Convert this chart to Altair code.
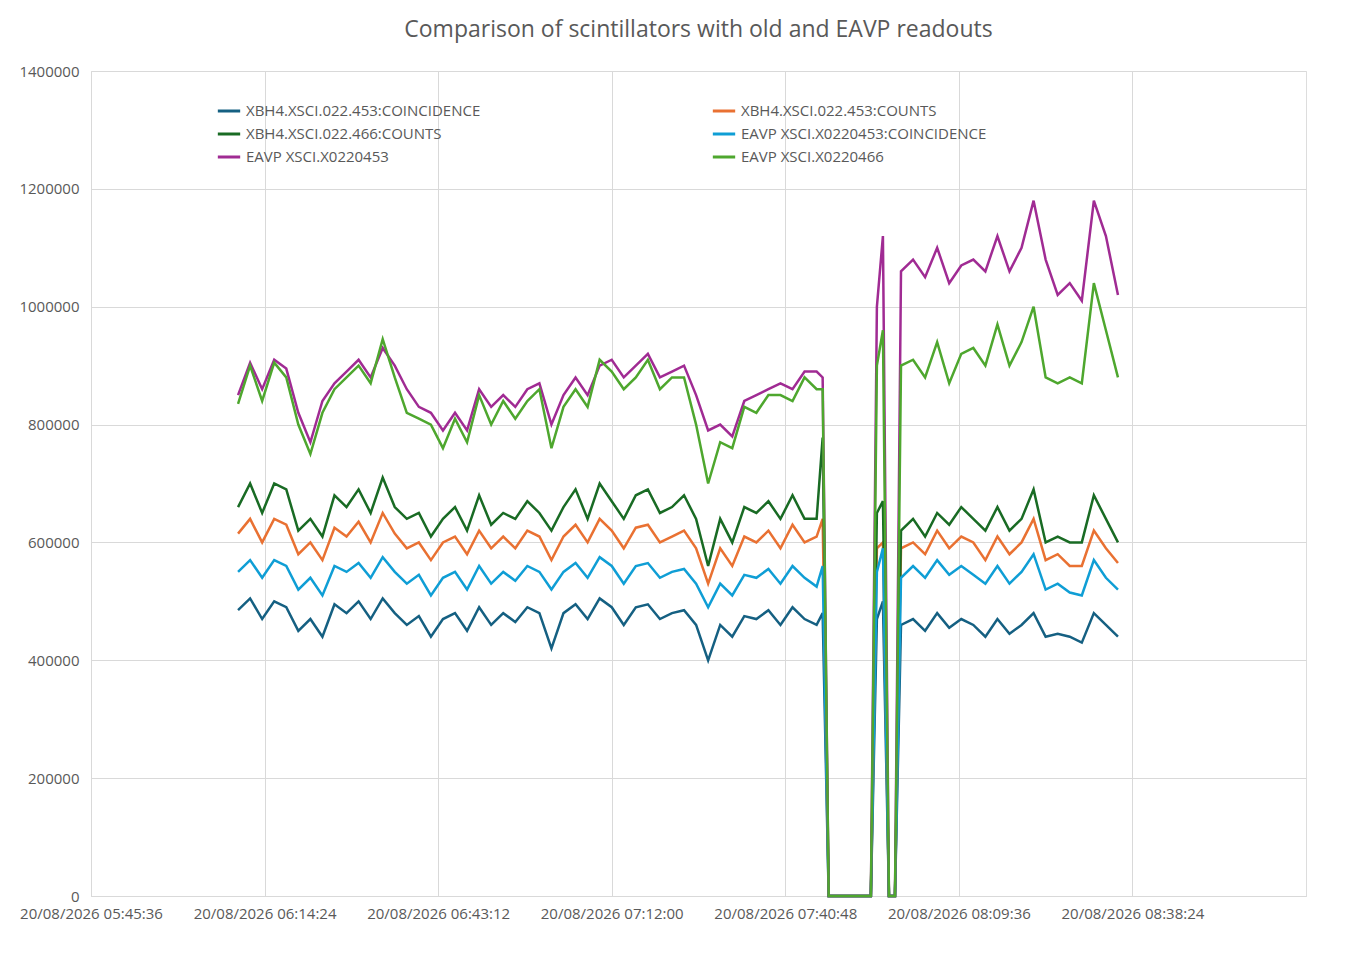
import altair as alt
import pandas as pd

# sample times: 06:10..07:46 every 2 min, the dropout, then 08:00..08:36 every 2 min
seg1_times = [f"2026-08-20T{(370 + 2 * i) // 60:02d}:{(370 + 2 * i) % 60:02d}:00" for i in range(49)]
gap_times = ["2026-08-20T07:47:00", "2026-08-20T07:48:00", "2026-08-20T07:55:00",
             "2026-08-20T07:56:00", "2026-08-20T07:57:00", "2026-08-20T07:58:00",
             "2026-08-20T07:59:00"]
seg2_times = [f"2026-08-20T08:{2 * i:02d}:00" for i in range(19)]
times = seg1_times + gap_times + seg2_times

# values in thousands of counts
xbh4_453_coinc = [485, 505, 470, 500, 490, 450, 470, 440, 495, 480, 500, 470, 505, 480, 460, 475, 440,
                  470, 480, 450, 490, 460, 480, 465, 490, 480, 420, 480, 495, 470, 505, 490, 460, 490,
                  495, 470, 480, 485, 460, 400, 460, 440, 475, 470, 485, 460, 490, 470, 460,
                  480, 0, 0, 470, 500, 0, 0,
                  460, 470, 450, 480, 455, 470, 460, 440, 470, 445, 460, 480, 440, 445, 440, 430, 480, 460, 440]
xbh4_453_counts = [615, 640, 600, 640, 630, 580, 600, 570, 625, 610, 635, 600, 650, 615, 590, 600, 570,
                   600, 610, 580, 620, 590, 610, 590, 620, 610, 570, 610, 630, 600, 640, 620, 590, 625,
                   630, 600, 610, 620, 590, 530, 590, 560, 610, 600, 620, 590, 630, 600, 610,
                   640, 0, 0, 590, 600, 0, 0,
                   590, 600, 580, 620, 590, 610, 600, 570, 610, 580, 600, 640, 570, 580, 560, 560, 620, 590, 565]
xbh4_466_counts = [660, 700, 650, 700, 690, 620, 640, 610, 680, 660, 690, 650, 710, 660, 640, 650, 610,
                   640, 660, 620, 680, 630, 650, 640, 670, 650, 620, 660, 690, 640, 700, 670, 640, 680,
                   690, 650, 660, 680, 640, 560, 640, 600, 660, 650, 670, 640, 680, 640, 640,
                   778, 0, 0, 650, 670, 0, 0,
                   620, 640, 610, 650, 630, 660, 640, 620, 660, 620, 640, 690, 600, 610, 600, 600, 680, 640, 600]
eavp_453_coinc = [550, 570, 540, 570, 560, 520, 540, 510, 560, 550, 565, 540, 575, 550, 530, 545, 510,
                  540, 550, 520, 560, 530, 550, 535, 560, 550, 520, 550, 565, 540, 575, 560, 530, 560,
                  565, 540, 550, 555, 530, 490, 530, 510, 545, 540, 555, 530, 560, 540, 525,
                  560, 0, 0, 550, 590, 0, 0,
                  540, 560, 540, 570, 545, 560, 545, 530, 560, 530, 550, 580, 520, 530, 515, 510, 570, 540, 520]
eavp_453 = [850, 905, 860, 910, 895, 820, 770, 840, 870, 890, 910, 880, 930, 900, 860, 830, 820,
            790, 820, 790, 860, 830, 850, 830, 860, 870, 800, 850, 880, 850, 900, 910, 880, 900,
            920, 880, 890, 900, 850, 790, 800, 780, 840, 850, 860, 870, 860, 890, 890,
            880, 0, 0, 1000, 1120, 0, 0,
            1060, 1080, 1050, 1100, 1040, 1070, 1080, 1060, 1120, 1060, 1100, 1180, 1080, 1020, 1040, 1010, 1180, 1120, 1020]
eavp_466 = [835, 900, 840, 905, 880, 800, 750, 820, 860, 880, 900, 870, 945, 880, 820, 810, 800,
            760, 810, 770, 850, 800, 840, 810, 840, 860, 760, 830, 860, 830, 910, 890, 860, 880,
            910, 860, 880, 880, 800, 700, 770, 760, 830, 820, 850, 850, 840, 880, 860,
            860, 0, 0, 900, 960, 0, 0,
            900, 910, 880, 940, 870, 920, 930, 900, 970, 900, 940, 1000, 880, 870, 880, 870, 1040, 960, 880]

names = ["XBH4.XSCI.022.453:COINCIDENCE", "XBH4.XSCI.022.453:COUNTS",
         "XBH4.XSCI.022.466:COUNTS", "EAVP XSCI.X0220453:COINCIDENCE",
         "EAVP XSCI.X0220453", "EAVP XSCI.X0220466"]
colors = ["#156082", "#E97132", "#196B24", "#0F9ED5", "#A02B93", "#4EA72E"]
series = [xbh4_453_coinc, xbh4_453_counts, xbh4_466_counts, eavp_453_coinc, eavp_453, eavp_466]

# legend fills column by column; reorder so it reads row by row like the original
legend_order = [0, 2, 4, 1, 3, 5]
domain = [names[i] for i in legend_order]
palette = [colors[i] for i in legend_order]

rows = []
for name, vals in zip(names, series):
    for t, v in zip(times, vals):
        rows.append({"time": t, "value": v * 1000, "series": name})
df = pd.DataFrame(rows)

def dt(h, m, s):
    return alt.DateTime(year=2026, month=8, date=20, hours=h, minutes=m, seconds=s)

ticks = [dt(5, 45, 36), dt(6, 14, 24), dt(6, 43, 12), dt(7, 12, 0),
         dt(7, 40, 48), dt(8, 9, 36), dt(8, 38, 24)]

chart = alt.Chart(df).mark_line(strokeWidth=2.5).encode(
    x=alt.X("time:T", title=None,
            scale=alt.Scale(domain=[dt(5, 45, 36), dt(9, 7, 12)]),
            axis=alt.Axis(values=ticks, format="%d/%m/%Y %H:%M:%S", labelFontSize=15,
                          labelColor="#595959", gridColor="#d9d9d9", domainColor="#d9d9d9",
                          ticks=False, labelPadding=10, labelOverlap=False, labelFlush=False)),
    y=alt.Y("value:Q", title=None,
            scale=alt.Scale(domain=[0, 1400000]),
            axis=alt.Axis(values=list(range(0, 1400001, 200000)), format="d", labelFontSize=15,
                          labelColor="#595959", gridColor="#d9d9d9", domain=False,
                          ticks=False, labelPadding=12)),
    color=alt.Color("series:N", scale=alt.Scale(domain=domain, range=palette),
                    legend=alt.Legend(title=None, orient="none", legendX=125, legendY=27,
                                      columns=2, columnPadding=225, symbolType="stroke",
                                      symbolStrokeWidth=3, symbolSize=500, labelFontSize=15,
                                      labelColor="#595959", rowPadding=2, labelLimit=400)),
    order=alt.Order("time:T"),
    detail="series:N",
).properties(
    width=1215, height=825,
    title=alt.TitleParams("Comparison of scintillators with old and EAVP readouts",
                          fontSize=23, fontWeight="normal", color="#595959", offset=22),
    autosize=alt.AutoSizeParams(type="none"),
    padding={"left": 83, "top": 63, "right": 50, "bottom": 50},
).configure_view(stroke="#d9d9d9", strokeWidth=1).configure(font="Open Sans")

chart.save("out.html", embed_options={"renderer": "svg", "actions": False})
